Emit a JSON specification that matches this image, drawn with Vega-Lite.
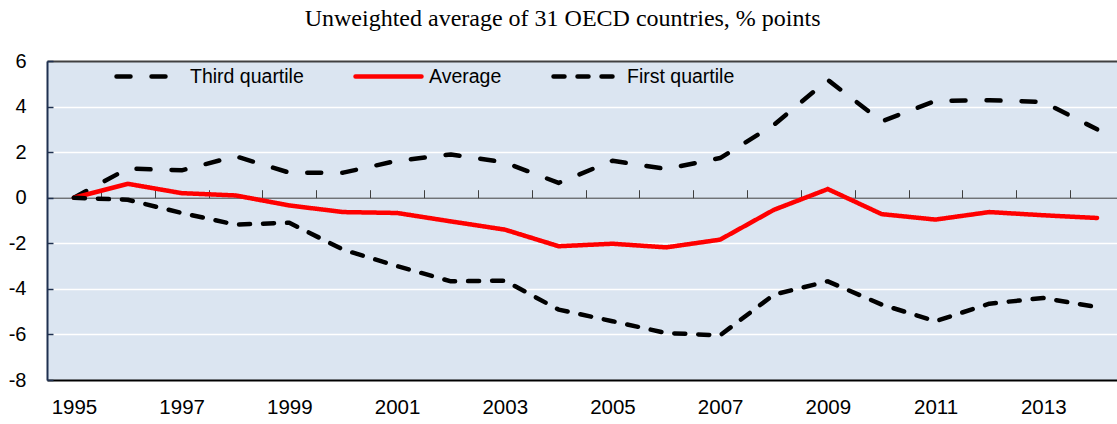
{
  "$schema": "https://vega.github.io/schema/vega-lite/v6.json",
  "width": 1070,
  "height": 319,
  "autosize": {"type": "none"},
  "padding": {"left": 47, "top": 61, "right": 0, "bottom": 44},
  "background": "white",
  "config": {
    "view": {"fill": "#dbe5f1", "stroke": null},
    "font": "Liberation Sans, Arial, sans-serif"
  },
  "title": {
    "text": "Unweighted average of 31 OECD countries, % points",
    "font": "Liberation Serif, Times New Roman, serif",
    "fontSize": 24,
    "fontWeight": "normal",
    "color": "black",
    "anchor": "middle",
    "frame": "bounds",
    "baseline": "alphabetic",
    "offset": -9
  },
  "data": {
    "values": [
      {"year": 1995, "series": "Third quartile", "value": 0},
      {"year": 1996, "series": "Third quartile", "value": 1.28},
      {"year": 1997, "series": "Third quartile", "value": 1.2},
      {"year": 1998, "series": "Third quartile", "value": 1.82},
      {"year": 1999, "series": "Third quartile", "value": 1.1},
      {"year": 2000, "series": "Third quartile", "value": 1.1},
      {"year": 2001, "series": "Third quartile", "value": 1.62},
      {"year": 2002, "series": "Third quartile", "value": 1.9},
      {"year": 2003, "series": "Third quartile", "value": 1.55},
      {"year": 2004, "series": "Third quartile", "value": 0.65},
      {"year": 2005, "series": "Third quartile", "value": 1.62},
      {"year": 2006, "series": "Third quartile", "value": 1.26},
      {"year": 2007, "series": "Third quartile", "value": 1.74},
      {"year": 2008, "series": "Third quartile", "value": 3.2},
      {"year": 2009, "series": "Third quartile", "value": 5.17},
      {"year": 2010, "series": "Third quartile", "value": 3.35},
      {"year": 2011, "series": "Third quartile", "value": 4.25},
      {"year": 2012, "series": "Third quartile", "value": 4.28},
      {"year": 2013, "series": "Third quartile", "value": 4.2},
      {"year": 2014, "series": "Third quartile", "value": 3.0},
      {"year": 1995, "series": "Average", "value": 0},
      {"year": 1996, "series": "Average", "value": 0.61},
      {"year": 1997, "series": "Average", "value": 0.2},
      {"year": 1998, "series": "Average", "value": 0.1},
      {"year": 1999, "series": "Average", "value": -0.34},
      {"year": 2000, "series": "Average", "value": -0.63},
      {"year": 2001, "series": "Average", "value": -0.67},
      {"year": 2002, "series": "Average", "value": -1.04},
      {"year": 2003, "series": "Average", "value": -1.4},
      {"year": 2004, "series": "Average", "value": -2.13},
      {"year": 2005, "series": "Average", "value": -2.02},
      {"year": 2006, "series": "Average", "value": -2.18},
      {"year": 2007, "series": "Average", "value": -1.84},
      {"year": 2008, "series": "Average", "value": -0.53},
      {"year": 2009, "series": "Average", "value": 0.38},
      {"year": 2010, "series": "Average", "value": -0.72},
      {"year": 2011, "series": "Average", "value": -0.96},
      {"year": 2012, "series": "Average", "value": -0.63},
      {"year": 2013, "series": "Average", "value": -0.77},
      {"year": 2014, "series": "Average", "value": -0.89},
      {"year": 1995, "series": "First quartile", "value": 0},
      {"year": 1996, "series": "First quartile", "value": -0.09},
      {"year": 1997, "series": "First quartile", "value": -0.67},
      {"year": 1998, "series": "First quartile", "value": -1.18},
      {"year": 1999, "series": "First quartile", "value": -1.1},
      {"year": 2000, "series": "First quartile", "value": -2.28},
      {"year": 2001, "series": "First quartile", "value": -3.0},
      {"year": 2002, "series": "First quartile", "value": -3.67},
      {"year": 2003, "series": "First quartile", "value": -3.64},
      {"year": 2004, "series": "First quartile", "value": -4.91},
      {"year": 2005, "series": "First quartile", "value": -5.42},
      {"year": 2006, "series": "First quartile", "value": -5.94},
      {"year": 2007, "series": "First quartile", "value": -6.04},
      {"year": 2008, "series": "First quartile", "value": -4.25},
      {"year": 2009, "series": "First quartile", "value": -3.67},
      {"year": 2010, "series": "First quartile", "value": -4.69},
      {"year": 2011, "series": "First quartile", "value": -5.42},
      {"year": 2012, "series": "First quartile", "value": -4.65},
      {"year": 2013, "series": "First quartile", "value": -4.4},
      {"year": 2014, "series": "First quartile", "value": -4.8}
    ]
  },
  "encoding": {
    "y": {
      "field": "value",
      "type": "quantitative",
      "scale": {"domain": [-8, 6], "nice": false, "zero": false},
      "axis": {
        "values": [-8, -6, -4, -2, 0, 2, 4, 6],
        "labelExpr": "replace(datum.label, '\u2212', '-')",
        "grid": true,
        "gridColor": {"condition": {"test": "datum.value === 0 || datum.value === 6 || datum.value === -8", "value": "transparent"}, "value": "white"},
        "gridWidth": 1.5,
        "domainColor": "#1f3050",
        "domainWidth": 2,
        "tickColor": "#1f3050",
        "tickSize": -6,
        "tickWidth": 1.5,
        "labelFontSize": 20,
        "labelColor": "black",
        "labelPadding": 27,
        "title": null
      }
    }
  },
  "layer": [
    {
      "mark": {"type": "line", "strokeCap": "round", "strokeJoin": "round"},
      "encoding": {
        "x": {
          "field": "year",
          "type": "quantitative",
          "scale": {"domain": [1994.5, 2014.37], "nice": false, "zero": false},
          "axis": {
            "orient": "bottom",
            "values": [1995, 1997, 1999, 2001, 2003, 2005, 2007, 2009, 2011, 2013],
            "format": "d",
            "ticks": false,
            "grid": false,
            "domainColor": "black",
            "domainWidth": 2,
            "labelFontSize": 20.5,
            "labelColor": "black",
            "labelPadding": 17,
            "title": null
          }
        },
        "color": {
          "field": "series",
          "type": "nominal",
          "scale": {"domain": ["Third quartile", "Average", "First quartile"], "range": ["black", "#ff0000", "black"]},
          "legend": {
            "orient": "none", "legendX": 67, "legendY": -20, "direction": "horizontal", "columns": 3,
            "title": null, "symbolType": "stroke", "symbolSize": 4356,
            "labelFontSize": 19.5, "labelColor": "black", "labelOffset": 5, "columnPadding": 42,
            "padding": 0, "labelLimit": 300,
            "encode": {"symbols": {"update": {"strokeCap": {"value": "round"}}}}
          }
        },
        "strokeDash": {
          "field": "series",
          "type": "nominal",
          "scale": {"domain": ["Third quartile", "Average", "First quartile"], "range": [[14, 21], [1, 0], [11, 13]]},
          "legend": {
            "orient": "none", "legendX": 67, "legendY": -20, "direction": "horizontal", "columns": 3,
            "title": null, "symbolType": "stroke", "symbolSize": 4356,
            "labelFontSize": 19.5, "labelColor": "black", "labelOffset": 5, "columnPadding": 42,
            "padding": 0, "labelLimit": 300,
            "encode": {"symbols": {"update": {"strokeCap": {"value": "round"}}}}
          }
        },
        "strokeWidth": {
          "field": "series",
          "type": "nominal",
          "scale": {"domain": ["Third quartile", "Average", "First quartile"], "range": [4.5, 4.5, 3.3]},
          "legend": {
            "orient": "none", "legendX": 67, "legendY": -20, "direction": "horizontal", "columns": 3,
            "title": null, "symbolType": "stroke", "symbolSize": 4356,
            "labelFontSize": 19.5, "labelColor": "black", "labelOffset": 5, "columnPadding": 42,
            "padding": 0, "labelLimit": 300,
            "encode": {"symbols": {"update": {"strokeCap": {"value": "round"}}}}
          }
        }
      }
    },
    {
      "mark": {"type": "point", "opacity": 0},
      "encoding": {
        "x": {
          "field": "year",
          "type": "quantitative",
          "axis": {
            "orient": "bottom",
            "offset": -182.3,
            "values": [1995.5, 1996.5, 1997.5, 1998.5, 1999.5, 2000.5, 2001.5, 2002.5, 2003.5, 2004.5, 2005.5, 2006.5, 2007.5, 2008.5, 2009.5, 2010.5, 2011.5, 2012.5, 2013.5],
            "labels": false,
            "grid": false,
            "domainColor": "#404040",
            "domainWidth": 1,
            "tickColor": "#404040",
            "tickSize": -8,
            "tickWidth": 1,
            "title": null
          }
        }
      }
    },
    {
      "mark": {"type": "point", "opacity": 0},
      "encoding": {
        "x": {
          "field": "year",
          "type": "quantitative",
          "axis": {
            "orient": "top",
            "labels": false,
            "ticks": false,
            "grid": false,
            "domainColor": "#404040",
            "domainWidth": 2,
            "title": null
          }
        }
      }
    }
  ],
  "resolve": {"axis": {"x": "independent"}}
}
